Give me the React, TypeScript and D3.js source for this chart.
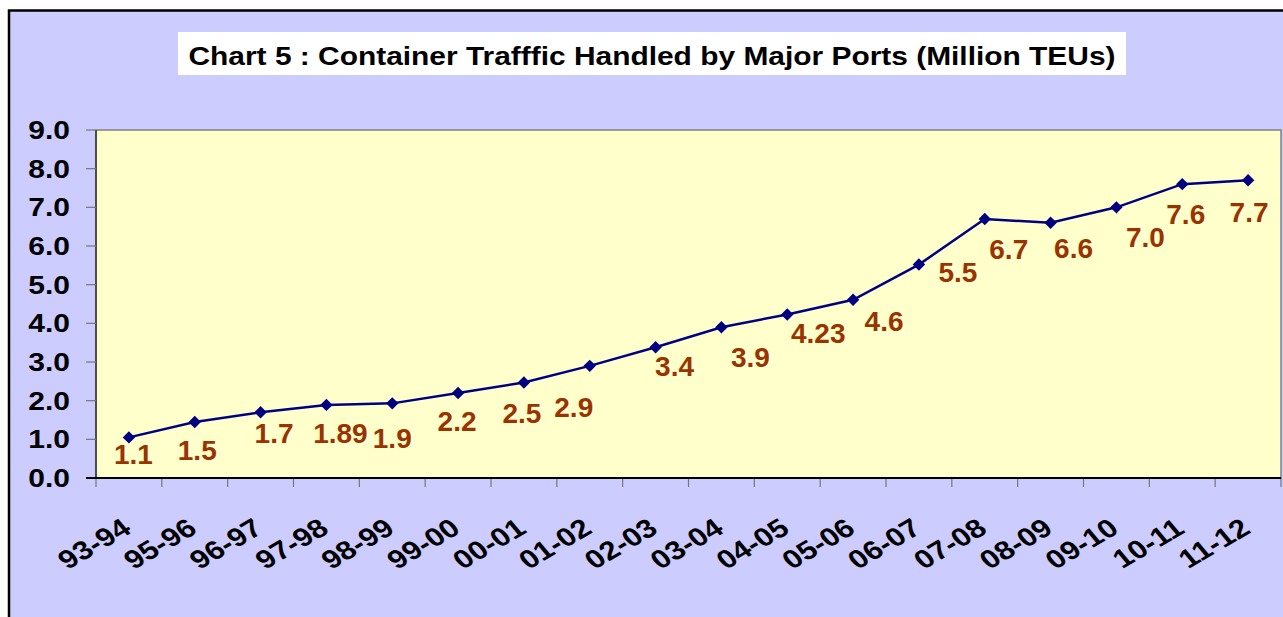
import React from "react";
import * as d3 from "d3";

const categories = ["93-94","95-96","96-97","97-98","98-99","99-00","00-01","01-02","02-03","03-04","04-05","05-06","06-07","07-08","08-09","09-10","10-11","11-12"];
const values = [1.05,1.45,1.7,1.89,1.93,2.2,2.47,2.9,3.38,3.9,4.23,4.61,5.52,6.7,6.6,7.0,7.6,7.7];
const labels = ["1.1","1.5","1.7","1.89","1.9","2.2","2.5","2.9","3.4","3.9","4.23","4.6","5.5","6.7","6.6","7.0","7.6","7.7"];
const yTicks = [0,1,2,3,4,5,6,7,8,9];
// manual label nudges (px) relative to each point, as placed in the original
const labelDx = [4.5,2.5,13.5,14,0,-1,-2,-16,19,29,31,31,39,24,23,29,3.5,1];
const labelDy = [17,28,21,28,35,28,31,41,19,30,19,21,7,30,25,30,29.5,32];

const W = 1283, H = 617;
const plot = { left: 96, top: 130, right: 1281, bottom: 478 };
const title = "Chart 5 : Container Trafffic Handled by Major Ports (Million TEUs)";

export default function App() {
  const x = d3.scaleBand().domain(categories).range([plot.left, plot.right]).padding(0);
  const y = d3.scaleLinear().domain([0, 9]).range([plot.bottom, plot.top]);
  const cx = (c: string) => (x(c) as number) + x.bandwidth() / 2;
  const line = d3.line<number>().x((_, i) => cx(categories[i])).y((d) => y(d));
  const font = "'Liberation Sans', Arial, sans-serif";
  const diamond = "M0,-6.2L6.2,0L0,6.2L-6.2,0Z";
  const xTickPos = categories.map((c) => x(c) as number).concat([plot.right]);

  return (
    <svg width={W} height={H} style={{ position: "absolute", left: 0, top: 0 }} fontFamily={font}>
      <rect x={0} y={0} width={W} height={H} fill="#ffffff" />
      <rect x={9} y={10.5} width={W + 20} height={H + 20} fill="#CCCCFF" stroke="#000" strokeWidth={2.5} />
      {/* title */}
      <rect x={178} y={32} width={948} height={43} fill="#ffffff" />
      <text x={652} y={65} textAnchor="middle" fontSize={25} fontWeight="bold" fill="#000"
        textLength={927} lengthAdjust="spacingAndGlyphs">{title}</text>
      {/* plot area */}
      <rect x={plot.left} y={plot.top} width={plot.right - plot.left} height={plot.bottom - plot.top}
        fill="#FFFFCC" stroke="#808080" strokeWidth={1.5} />
      {/* y axis */}
      <line x1={plot.left} x2={plot.left} y1={plot.top} y2={plot.bottom} stroke="#333" strokeWidth={1.5} />
      {yTicks.map((t) => (
        <g key={t}>
          <line x1={plot.left - 10} x2={plot.left} y1={y(t)} y2={y(t)} stroke="#777" strokeWidth={1.2} />
          <text x={70} y={y(t) + 9} textAnchor="end" fontSize={25} fontWeight="bold" fill="#000"
            transform={`translate(70,0) scale(1.2,1) translate(-70,0)`}>{d3.format(".1f")(t)}</text>
        </g>
      ))}
      {/* x axis */}
      {xTickPos.map((p, i) => (
        <line key={i} x1={p} x2={p} y1={plot.bottom} y2={plot.bottom + 9} stroke="#777" strokeWidth={1.2} />
      ))}
      <line x1={plot.left - 10} x2={plot.right} y1={plot.bottom} y2={plot.bottom} stroke="#000" strokeWidth={2} />
      {categories.map((c) => (
        <text key={c} transform={`translate(${cx(c) + 4},532) scale(1.2,1) rotate(-35)`} textAnchor="end"
          fontSize={26} fontWeight="bold" fill="#000">{c}</text>
      ))}
      {/* series */}
      <path d={line(values) as string} fill="none" stroke="#000080" strokeWidth={2.5} />
      {values.map((v, i) => (
        <path key={i} d={diamond} transform={`translate(${cx(categories[i])},${y(v)})`} fill="#000080" />
      ))}
      {values.map((v, i) => (
        <text key={"l" + i} x={cx(categories[i]) + labelDx[i]} y={y(v) + labelDy[i] + 10}
          textAnchor="middle" fontSize={28} fontWeight="bold" fill="#993300">{labels[i]}</text>
      ))}
    </svg>
  );
}
